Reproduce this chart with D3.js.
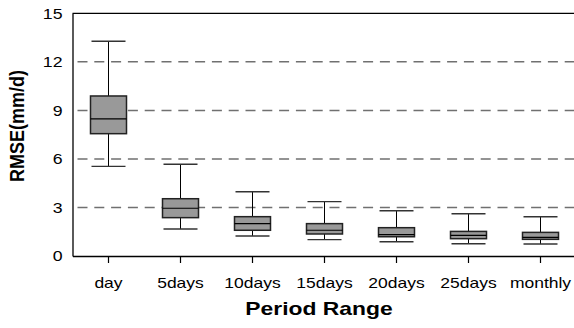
<!DOCTYPE html>
<html>
<head>
<meta charset="utf-8">
<script src="https://cdn.jsdelivr.net/npm/d3@7"></script>
<style>
  html, body { margin: 0; padding: 0; background: #fff; }
  svg { display: block; font-family: "Liberation Sans", Arial, sans-serif; }
</style>
</head>
<body>
<svg id="chart" width="574" height="328"></svg>
<script>
const categories = ["day", "5days", "10days", "15days", "20days", "25days", "monthly"];
const whiskerLow  = [5.54, 1.67, 1.24, 1.01, 0.88, 0.76, 0.74];
const q1          = [7.56, 2.37, 1.59, 1.36, 1.19, 1.07, 1.03];
const median      = [8.47, 2.95, 2.00, 1.59, 1.32, 1.28, 1.15];
const q3          = [9.89, 3.54, 2.43, 2.00, 1.75, 1.52, 1.46];
const whiskerHigh = [13.27, 5.67, 3.97, 3.36, 2.80, 2.61, 2.43];
const yTicks = [0, 3, 6, 9, 12, 15];
const gridValues = [3, 6, 9, 12];

const svg = d3.select("#chart");
const mLeft = 72.5, mRight = 576.5, mTop = 13.3, mBottom = 256;

const x = d3.scaleBand().domain(categories).range([mLeft, mRight]).padding(0);
const y = d3.scaleLinear().domain([0, 15]).range([mBottom, mTop]);

const data = categories.map((c, i) => ({
  c, lo: whiskerLow[i], q1: q1[i], med: median[i], q3: q3[i], hi: whiskerHigh[i]
}));

// gridlines
svg.append("g").selectAll("line").data(gridValues).join("line")
  .attr("x1", mLeft).attr("x2", 574)
  .attr("y1", d => y(d)).attr("y2", d => y(d))
  .attr("stroke", "#707070").attr("stroke-width", 1.5)
  .attr("stroke-dasharray", "10,6.8").attr("stroke-dashoffset", -5);

// top frame line
svg.append("line").attr("x1", mLeft).attr("x2", 574)
  .attr("y1", y(15)).attr("y2", y(15))
  .attr("stroke", "#000").attr("stroke-width", 1.3);

const boxW = 36, capW = 34;
const g = svg.append("g").selectAll("g").data(data).join("g")
  .attr("transform", d => `translate(${x(d.c) + x.bandwidth() / 2},0)`);

g.append("line").attr("x1", 0).attr("x2", 0)
  .attr("y1", d => y(d.lo)).attr("y2", d => y(d.hi))
  .attr("stroke", "#000").attr("stroke-width", 1);
g.append("line").attr("x1", -capW / 2).attr("x2", capW / 2)
  .attr("y1", d => y(d.hi)).attr("y2", d => y(d.hi))
  .attr("stroke", "#333").attr("stroke-width", 1.4);
g.append("line").attr("x1", -capW / 2).attr("x2", capW / 2)
  .attr("y1", d => y(d.lo)).attr("y2", d => y(d.lo))
  .attr("stroke", "#333").attr("stroke-width", 1.4);
g.append("rect").attr("x", -boxW / 2).attr("width", boxW)
  .attr("y", d => y(d.q3)).attr("height", d => y(d.q1) - y(d.q3))
  .attr("fill", "#999999").attr("stroke", "#222").attr("stroke-width", 1.5);
g.append("line").attr("x1", -boxW / 2).attr("x2", boxW / 2)
  .attr("y1", d => y(d.med)).attr("y2", d => y(d.med))
  .attr("stroke", "#000").attr("stroke-width", 1.2);

// x axis
const xAxis = svg.append("g").attr("transform", `translate(0,${mBottom})`)
  .call(d3.axisBottom(x).tickSizeInner(7).tickSizeOuter(0).tickPadding(15));
xAxis.select(".domain").attr("stroke", "#000").attr("stroke-width", 1.5);
xAxis.selectAll(".tick line").attr("stroke", "#000").attr("stroke-width", 1.2);
xAxis.selectAll(".tick text").attr("font-size", 14).attr("fill", "#000")
  .attr("font-family", "Liberation Sans, Arial, sans-serif")
  .attr("transform", "scale(1.25,1)");

// y axis
const yAxis = svg.append("g").attr("transform", `translate(${mLeft},0)`)
  .call(d3.axisLeft(y).tickValues(yTicks).tickSize(0).tickPadding(8.5));
yAxis.select(".domain").attr("stroke", "#000").attr("stroke-width", 1.3);
yAxis.selectAll(".tick text").attr("font-size", 15).attr("fill", "#000")
  .attr("font-family", "Liberation Sans, Arial, sans-serif")
  .attr("transform", "scale(1.18,1)");

// axis titles
svg.append("text").attr("x", 319).attr("y", 315)
  .attr("text-anchor", "middle").attr("font-size", 18).attr("font-weight", "bold")
  .attr("transform", "translate(319,0) scale(1.27,1) translate(-319,0)")
  .text("Period Range");
svg.append("text")
  .attr("transform", "translate(24,126) rotate(-90) scale(1,1.15)")
  .attr("text-anchor", "middle").attr("font-size", 18).attr("font-weight", "bold")
  .text("RMSE(mm/d)");
</script>
</body>
</html>
